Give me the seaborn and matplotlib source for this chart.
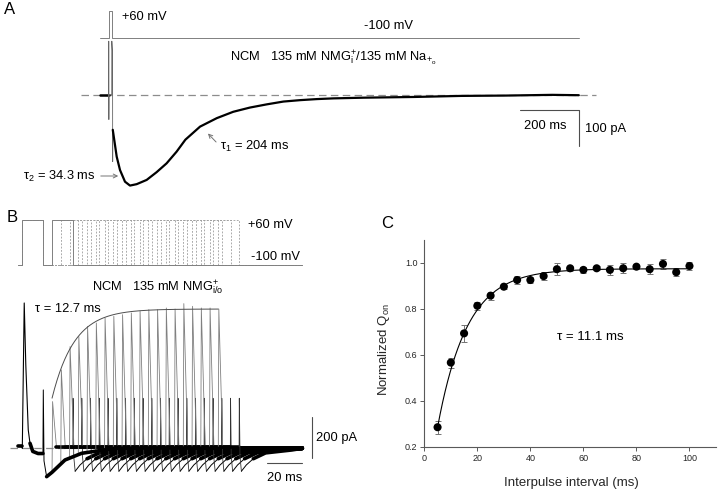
import numpy as np
import matplotlib
matplotlib.use('Agg')
import matplotlib.pyplot as plt
import seaborn as sns

sns.set_theme(style='white')
plt.rcParams['font.family'] = ['Liberation Sans', 'DejaVu Sans']
plt.rcParams['mathtext.fontset'] = 'custom'
plt.rcParams['mathtext.rm'] = 'Liberation Sans'
plt.rcParams['mathtext.it'] = 'Liberation Sans:italic'

W, H = 720, 495

# ---- A: single +60 mV pulse, NMG inside / Na outside
a_volt_t = [0, 30, 30, 40, 40, 1632]
a_volt_mv = [-100, -100, 60, 60, -100, -100]
a_pre_t = [0, 29.5]
a_pre_pa = [0, 0]
a_artifact_t = [29.5, 29.8, 30.2, 30.6, 40.0, 40.3, 42.8, 43.2, 43.5]
a_artifact_pa = [0, 151, -71, 0, 0, 151, 118, -190, -100]
a_curr_t = [43.5, 45.3, 56.9, 68.2, 85.2, 102.2, 125, 159, 193, 227, 261, 291,
            341, 398, 454, 511, 568, 625, 682, 739, 795, 900, 1070, 1230, 1384,
            1541, 1632]
a_curr_pa = [-100, -110, -176, -214, -247, -258, -254, -242, -220, -195, -162,
             -128, -91, -67, -49, -37, -28, -20, -16, -13, -11, -9, -7, -4, -3,
             -1, -2]

# ---- B: paired pulses, NMG in/out
b_intervals = [5, 10, 15, 20, 25, 30, 35, 40, 45, 50, 55, 60, 65, 70, 75, 80,
               85, 90, 95, 100]
b_on_peak = [224, 376, 488, 536, 585, 601, 625, 633, 641, 649, 657, 665, 665,
             673, 668, 694, 681, 673, 673, 668]
b_pulse = 12
b_start, b_end = -2.3, 160
b_pre_t, b_pre_pa = [-2.3, -0.2], [10, 10]
b_spike1_t = [-0.2, 0, 1.1, 2.0, 3.4, 4.4]
b_spike1_pa = [10, 0, 697, 400, 88, 24]
b_band1_t, b_band1_pa = [4.4, 6, 9, 11.8], [24, -15, -25, -25]
b_off1_t, b_off1_pa = [11.8, 12, 12.4, 13.9], [-25, 280, -60, -136]
b_rec1_t = [13.9, 17, 24.4, 33.9, 53, 80, 112]
b_rec1_pa = [-136, -115, -56, -24, 0, 2, 0]
# response to the end of the second pulse (time after pulse end)
b_offspk_t, b_offspk_pa = [-0.1, 0, 0.4, 1.2], [8, 240, -40, -110]
b_dip_t, b_dip_pa = [1.2, 4, 8], [-110, -80, -50]
b_tail_t, b_tail_pa = [8, 15, 30, 60], [-50, -22, -8, 0]
b_env_tau, b_env_amp, b_env_shift = 12.7, 668, 0.67

# ---- C: recovery of Qon
c_interval = [5, 10, 15, 20, 25, 30, 35, 40, 45, 50, 55, 60, 65, 70, 75, 80,
              85, 90, 95, 100]
c_qon = [0.286, 0.567, 0.694, 0.814, 0.858, 0.897, 0.926, 0.926, 0.943, 0.973,
         0.977, 0.970, 0.977, 0.970, 0.977, 0.984, 0.973, 0.996, 0.960, 0.987]
c_err = [0.029, 0.022, 0.036, 0.017, 0.017, 0.009, 0.017, 0.012, 0.017, 0.026,
         0.012, 0.012, 0.009, 0.022, 0.022, 0.009, 0.022, 0.022, 0.017, 0.017]
c_tau, c_plateau, c_amp = 11.1, 0.975, 1.082

fig = plt.figure(figsize=(7.2, 4.95), dpi=100)


def trace_axes(x0_px, px_per_x, y0_px, y0_val, px_per_y):
    ax = fig.add_axes([0, 0, 1, 1])
    ax.set_xlim(-x0_px / px_per_x, (W - x0_px) / px_per_x)
    ax.set_ylim(y0_val - (H - y0_px) / px_per_y, y0_val + y0_px / px_per_y)
    ax.axis('off')
    ax.patch.set_alpha(0)
    return ax


def label(x, y, s, **kw):
    kw.setdefault('va', 'center')
    kw.setdefault('fontsize', 9.3)
    fig.text(x / W, 1 - y / H, s, color='black', **kw)


def arrow(x1, y1, x2, y2):
    fig.add_artist(matplotlib.patches.FancyArrowPatch(
        (x1 / W, 1 - y1 / H), (x2 / W, 1 - y2 / H), transform=fig.transFigure,
        arrowstyle='->', mutation_scale=7, color='0.45', lw=0.7))


# ================= A =================
axAv = trace_axes(100, 0.2934, 37.5, -100, 0.1656)
axAv.plot(a_volt_t, a_volt_mv, color='0.5', lw=0.7)

axA = trace_axes(100, 0.2934, 94.5, 0, 0.353)
axA.plot([-66, 1690], [0, 0], color='0.55', lw=0.9, dashes=(6, 3.5))
axA.plot(a_pre_t, a_pre_pa, color='black', lw=1.8)
axA.plot(a_artifact_t, a_artifact_pa, color='0.4', lw=0.6)
axA.plot(a_curr_t, a_curr_pa, color='black', lw=1.6, solid_joinstyle='round')
# scale bars 200 ms / 100 pA
axA.plot([a_curr_t[-1] - 200, a_curr_t[-1], a_curr_t[-1]], [-44.5, -44.5, -144.5],
         color='0.3', lw=0.8)

label(10, 9, 'A', fontsize=12, ha='center')
label(122, 17, '+60 mV')
label(388, 26, '-100 mV', ha='center')
label(230, 58, r'NCM   135 mM NMG$^{+}_{\mathrm{i}}$/135 mM Na$_{+_{\mathrm{o}}}$')
label(220, 146, r'τ$_{1}$ = 204 ms')
arrow(218, 144, 206, 131.5)
label(96, 176, r'τ$_{2}$ = 34.3 ms', ha='right')
arrow(98, 176, 121, 176)
label(545.7, 126, '200 ms', ha='center')
label(585, 129, '100 pA')

# ================= B =================
axBv = trace_axes(22.3, 1.75, 265.5, -100, 0.2844)
axB = trace_axes(22.3, 1.75, 448.3, 0, 0.2085)
axB.plot([-7, b_end], [0, 0], color='0.55', lw=0.9, dashes=(6, 3.5))

for k, (ipi, peak) in enumerate(zip(b_intervals, b_on_peak)):
    t_on = b_pulse + ipi
    t_off = t_on + b_pulse
    vt = [b_start, 0, 0, b_pulse, b_pulse, t_on, t_on, t_off, t_off, b_end]
    vv = [-100, -100, 60, 60, -100, -100, 60, 60, -100, -100]
    if k == 0:
        axBv.plot(vt, vv, color='0.5', lw=0.7, zorder=3)
    else:
        axBv.plot(vt, vv, color='0.62', lw=0.6, dashes=(2.2, 1.8))

    base = np.interp(t_on, b_rec1_t, b_rec1_pa)
    axB.plot([t_on, t_on + 0.3, t_on + 2.5], [base, peak, 8], color='0.5', lw=0.6)
    axB.plot([t_on + 2.5, t_off - 0.1], [8, 8], color='black', lw=2.6)
    axB.plot(t_off + np.array(b_offspk_t), b_offspk_pa, color='0.2', lw=0.6)
    axB.plot(t_off + np.array(b_dip_t), b_dip_pa, color='black', lw=0.7)
    tail_t = [t for t in t_off + np.array(b_tail_t) if t < b_end] + [b_end]
    tail_pa = b_tail_pa[:len(tail_t) - 1] + [0]
    axB.plot(tail_t, tail_pa, color='black', lw=2.6)

axB.plot(b_pre_t, b_pre_pa, color='black', lw=2.6)
axB.plot(b_spike1_t, b_spike1_pa, color='black', lw=0.8)
axB.plot(b_band1_t, b_band1_pa, color='black', lw=2.6)
axB.plot(b_off1_t, b_off1_pa, color='black', lw=0.7)
axB.plot(b_rec1_t, b_rec1_pa, color='black', lw=2.6, solid_joinstyle='round')

env_t = np.linspace(b_pulse + b_intervals[0], b_pulse + b_intervals[-1], 200)
env_pa = b_env_amp * (1 - np.exp(-(env_t - b_pulse + b_env_shift) / b_env_tau))
axB.plot(env_t, env_pa, color='0.3', lw=0.7)
# scale bars 20 ms / 200 pA
axB.plot([b_end - 20, b_end], [-72, -72], color='0.3', lw=0.8)
axB.plot([165.4, 165.4], [-48, 152], color='0.3', lw=0.8)

label(12.5, 217.5, 'B', fontsize=12, ha='center')
label(248, 225, '+60 mV')
label(251, 256.7, '-100 mV')
label(91.7, 288, r'NCM   135 mM NMG$^{+}_{\mathrm{i/o}}$')
label(35, 308.5, 'τ = 12.7 ms')
label(316, 438.3, '200 pA')
label(285, 478.3, '20 ms', ha='center')

# ================= C =================
axC = fig.add_axes([424.3 / W, 1 - 447 / H, (716 - 424.3) / W, 207 / H])
axC.errorbar(c_interval, c_qon, yerr=c_err, fmt='none', ecolor='0.45',
             elinewidth=0.7, capsize=2, capthick=0.7, zorder=2)
fit_x = np.linspace(c_interval[0], c_interval[-1], 200)
fit_y = c_plateau - c_amp * np.exp(-fit_x / c_tau)
sns.lineplot(x=fit_x, y=fit_y, ax=axC, color='black', lw=0.8, zorder=3)
sns.scatterplot(x=c_interval, y=c_qon, ax=axC, color='black', s=34,
                edgecolor='none', zorder=4)
axC.set_xlim(0, 110)
axC.set_ylim(0.2, 1.1)
axC.set_xticks([0, 20, 40, 60, 80, 100])
axC.set_yticks([0.2, 0.4, 0.6, 0.8, 1.0])
axC.set_yticklabels(['0.2', '0.4', '0.6', '0.8', '1.0'])
axC.tick_params(direction='out', length=3, width=0.7, color='0.35',
                labelsize=6.5, pad=2, bottom=True, left=True)
for side in ['top', 'right']:
    axC.spines[side].set_visible(False)
for side in ['left', 'bottom']:
    axC.spines[side].set_color('0.35')
    axC.spines[side].set_linewidth(0.8)
axC.set_xlabel('Interpulse interval (ms)', fontsize=9.5)
axC.set_ylabel(r'Normalized Q$_{\mathrm{on}}$', fontsize=9.5)
axC.xaxis.set_label_coords(0.504, -0.145)
axC.yaxis.set_label_coords(-0.11, 0.47)

label(387, 223, 'C', fontsize=12, ha='center')
label(590, 336.7, 'τ = 11.1 ms', ha='center', fontsize=9.5)

fig.savefig('out.png', dpi=100)
